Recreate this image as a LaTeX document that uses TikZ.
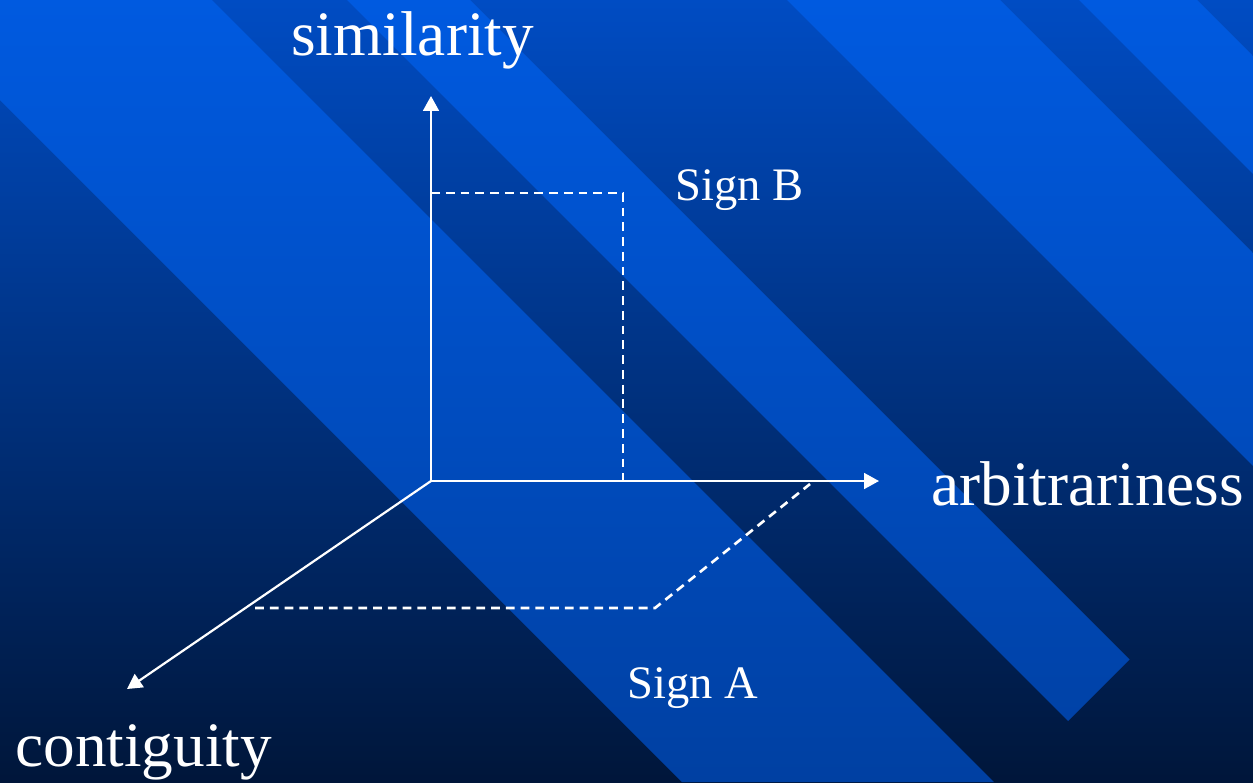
\documentclass[tikz,border=0pt]{standalone}
\usepackage{fontspec}
\setmainfont{Liberation Serif}
\usetikzlibrary{arrows.meta, positioning}

\definecolor{bgtop}{RGB}{0,76,195}
\definecolor{bgbot}{RGB}{0,22,58}
\definecolor{stripetop}{RGB}{0,90,224}
\definecolor{stripebot}{RGB}{0,64,162}

\begin{document}
\begin{tikzpicture}[
    x=0.02cm, y=-0.02cm,
    axis/.style={-{Triangle[length=8.5pt,width=9pt]}, white, line width=1.25pt},
    guide/.style={white, dash pattern=on 5pt off 3.4pt, line width=1.5pt},
    axislabel/.style={white, inner sep=0pt, anchor=base west, font=\fontsize{36}{40}\selectfont},
    signlabel/.style={white, inner sep=0pt, anchor=base west, font=\fontsize{26.5}{30}\selectfont}
]
\useasboundingbox (0,0) rectangle (1253,782);
% background and stripes
\shade[top color=bgtop, bottom color=bgbot] (0,0) rectangle (1253,782);
\begin{scope}
\clip (0,0) -- (212,0) -- (994,782) -- (682,782) -- (0,100) -- cycle
      (347,0) -- (470,0) -- (1129.5,659.5) -- (1068,721) -- cycle
      (787,0) -- (1000,0) -- (1253,253) -- (1253,466) -- cycle
      (1079,0) -- (1197,0) -- (1253,56) -- (1253,174) -- cycle;
\shade[top color=stripetop, bottom color=stripebot] (0,0) rectangle (1253,782);
\end{scope}

% axes
\coordinate (O) at (431,481);
\coordinate (simtip) at (431,96);
\coordinate (arbtip) at (879,481);
\coordinate (contip) at (127,689);
\draw[axis] (O) -- (simtip);
\draw[axis] (O) -- (arbtip);
\draw[axis] (O) -- (contip);

\node[axislabel] (similarity) at (291,55) {similarity};
\node[axislabel] (arbitrariness) at (931,505) {arbitrariness};
\node[axislabel] (contiguity) at (15,766) {contiguity};

% sign B
\coordinate (bleft) at (431,193);
\coordinate (bcorner) at (623,193);
\coordinate (bfoot) at (623,481);
\draw[guide] (bleft) -- (bcorner) -- (bfoot);
\node[signlabel] (signB) at (675,200) {Sign B};

% sign A
\coordinate (aleft) at (255,608);
\coordinate (acorner) at (655,608);
\coordinate (aend) at (810,484);
\draw[guide] (aleft) -- (acorner) -- (aend);
\node[signlabel] (signA) at (627,698) {Sign A};
\end{tikzpicture}
\end{document}
